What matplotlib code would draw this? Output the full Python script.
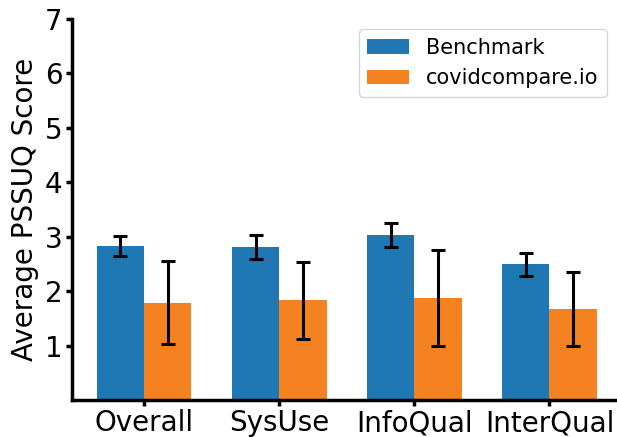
import numpy as np
import matplotlib.pyplot as plt

categories = ['Overall', 'SysUse', 'InfoQual', 'InterQual']
benchmark = [2.83, 2.81, 3.03, 2.49]
benchmark_err = [0.19, 0.22, 0.22, 0.215]
covid = [1.79, 1.83, 1.87, 1.67]
covid_err = [0.76, 0.71, 0.88, 0.68]

x = np.arange(len(categories))
w = 0.35

fig = plt.figure(figsize=(6.17, 4.37), dpi=100)
ax = fig.add_axes([0.116, 0.0847, 0.884, 0.8718])

err_kw = dict(elinewidth=2.2, capthick=2.2, capsize=5.3, ecolor='black')
ax.bar(x - w / 2, benchmark, w, yerr=benchmark_err, color='#1f77b4',
       label='Benchmark', error_kw=err_kw)
ax.bar(x + w / 2, covid, w, yerr=covid_err, color='#f58220',
       label='covidcompare.io', error_kw=err_kw)

ax.set_xticks(x)
ax.set_xticklabels(categories)
ax.set_yticks([1, 2, 3, 4, 5, 6, 7])
ax.set_ylim(0, 7)
ax.set_xlim(-0.537, 3.5)
ax.set_ylabel('Average PSSUQ Score', fontsize=20, labelpad=4)
ax.tick_params(labelsize=20, width=2.5, length=4, pad=2.5)
for s in ['top', 'right']:
    ax.spines[s].set_visible(False)
for s in ['left', 'bottom']:
    ax.spines[s].set_linewidth(2.5)
ax.legend(loc='upper right', fontsize=15, handlelength=2.0,
          bbox_to_anchor=(1.0, 1.0))

fig.savefig('out.png', dpi=100)
